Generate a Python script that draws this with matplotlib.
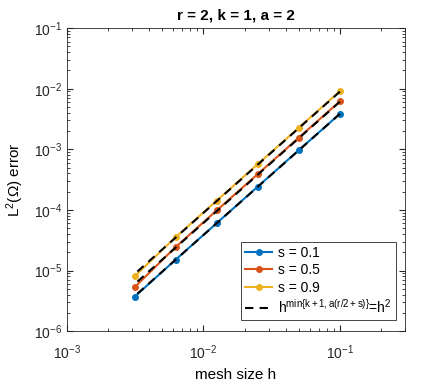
import numpy as np
import matplotlib
matplotlib.use('Agg')
import matplotlib.pyplot as plt

plt.rcParams['font.family'] = ['Liberation Sans', 'DejaVu Sans']
plt.rcParams['mathtext.fontset'] = 'custom'
plt.rcParams['mathtext.rm'] = 'Liberation Sans'
plt.rcParams['mathtext.it'] = 'Liberation Sans'
plt.rcParams['mathtext.bf'] = 'Liberation Sans:bold'

# mesh sizes
h = [0.1, 0.05, 0.025, 0.0125, 0.00625, 0.003125]

# L2 errors
err_s01 = [3.85e-3, 9.7e-4, 2.42e-4, 6.05e-5, 1.51e-5, 3.68e-6]
err_s05 = [6.2e-3, 1.56e-3, 3.9e-4, 9.8e-5, 2.44e-5, 5.3e-6]
err_s09 = [9.1e-3, 2.28e-3, 5.7e-4, 1.42e-4, 3.55e-5, 8.0e-6]
labels = ['s = 0.1', 's = 0.5', 's = 0.9']
colors = ['#0072BD', '#D95319', '#EDB120']

fig = plt.figure(figsize=(4.47, 3.85), dpi=100)
ax = fig.add_axes([0.150, 0.140, 0.756, 0.787])

hh = np.array(h)
for err, lab, c in zip([err_s01, err_s05, err_s09], labels, colors):
    ax.loglog(h, err, '-o', color=c, lw=1.5, ms=4, label=lab)

# reference rate h^2, constant fitted to each series
for i, err in enumerate([err_s01, err_s05, err_s09]):
    c0 = np.exp(np.mean(np.log(np.array(err) / hh**2)))
    ax.loglog(h, c0 * hh**2, '--', color='k', lw=1.5, dashes=(4, 3),
              label=r'h$^{\mathrm{min\{k+1,a(r/2+s)\}}}$=h$^2$' if i == 0 else None)

ax.set_xlim(1e-3, 0.3)
ax.set_ylim(1e-6, 1e-1)
ax.set_xlabel('mesh size h', fontsize=11, labelpad=4)
ax.set_ylabel(r'L$^2$($\Omega$) error', fontsize=11, labelpad=6)
ax.set_title('r = 2, k = 1, a = 2', fontsize=11, fontweight='bold')

ax.tick_params(which='both', direction='in', top=True, right=True,
               labelsize=10, colors='#262626')
ax.tick_params(axis='x', which='major', pad=9)
ax.tick_params(which='major', length=4)
ax.tick_params(which='minor', length=2)
for sp in ax.spines.values():
    sp.set_color('#262626')
    sp.set_linewidth(0.6)

leg = ax.legend(loc='lower right', fontsize=10, fancybox=False,
                edgecolor='#262626', framealpha=1, handlelength=2.0,
                borderpad=0.3, labelspacing=0.25, handletextpad=0.4,
                borderaxespad=0, bbox_to_anchor=(0.973, 0.036))
leg.get_frame().set_linewidth(0.6)

fig.savefig('out.png', dpi=100)
